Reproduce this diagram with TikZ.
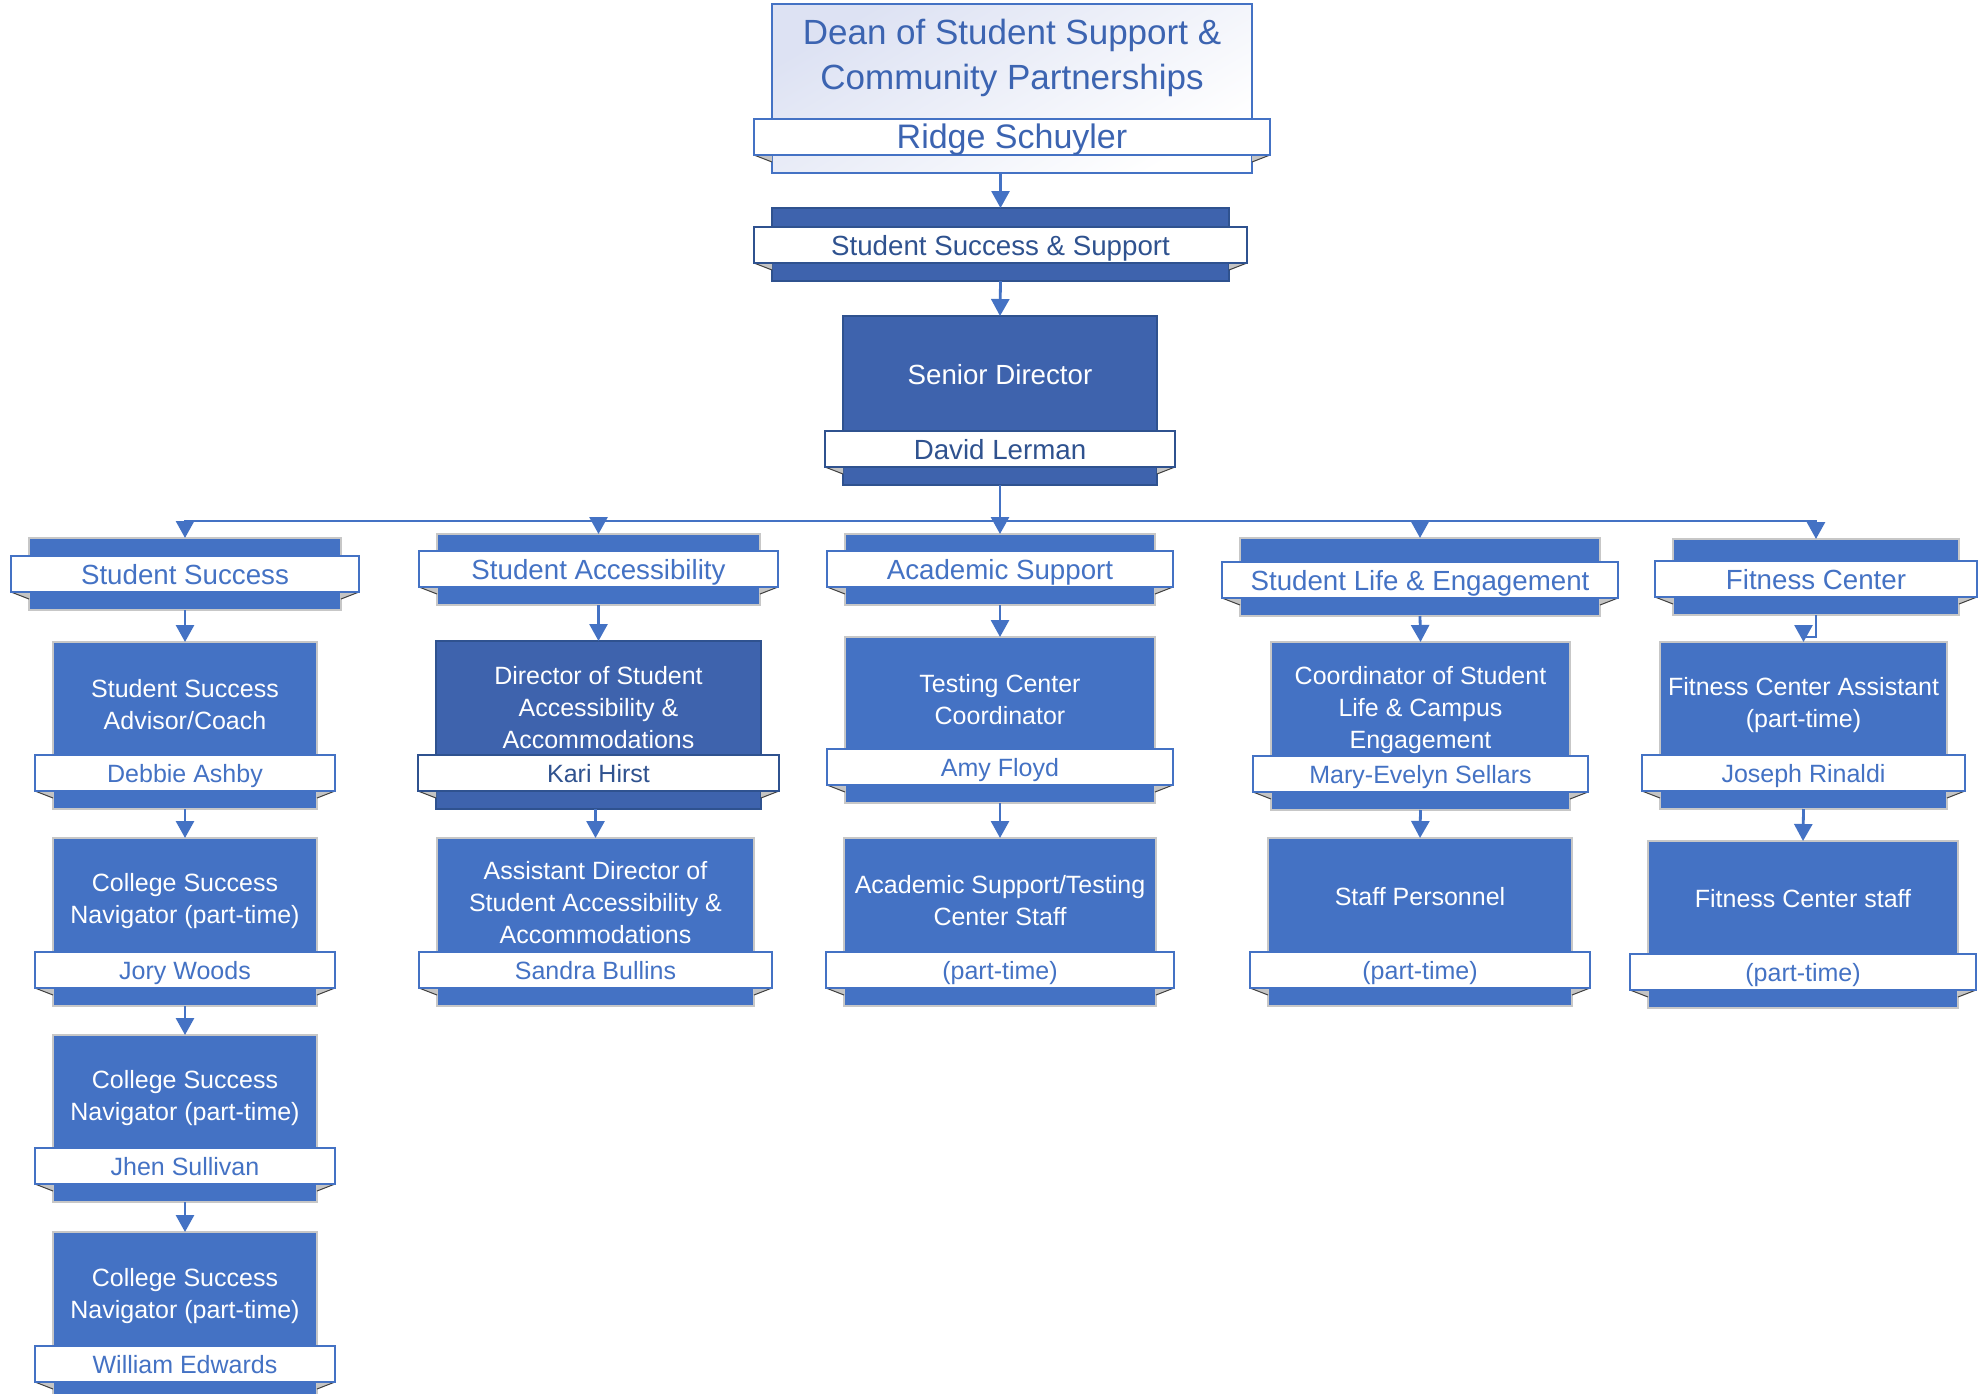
\documentclass[tikz,border=0pt]{standalone}
\usepackage{fontspec}
\setmainfont{Liberation Sans}
\usetikzlibrary{arrows.meta}
\definecolor{lt}{HTML}{4472C4}
\definecolor{dk}{HTML}{3E63AD}
\definecolor{dkline}{HTML}{2F528F}
\definecolor{dktext}{HTML}{2F528F}
\definecolor{deantext}{HTML}{3C64B1}
\definecolor{deanfill}{HTML}{DDE2F3}
\definecolor{foldgray}{HTML}{C4C4C4}
\newcommand\fb{\fontsize{25}{32}\selectfont}
\newcommand\fd{\fontsize{27.7}{34}\selectfont}
\newcommand\fdean{\fontsize{35}{45}\selectfont}
\newcommand\fridge{\fontsize{34}{40}\selectfont}
\tikzset{
  ltbox/.style={fill=lt, draw=black!22, line width=1.2pt},
  dkbox/.style={fill=dk, draw=dkline, line width=1.5pt},
  deanbox/.style={top color=deanfill, bottom color=white, shading angle=30, draw=lt, line width=1.8pt},
  ltband/.style={fill=white, draw=lt, line width=1.3pt},
  dkband/.style={fill=white, draw=dkline, line width=1.8pt},
  deanband/.style={fill=white, draw=lt, line width=1.5pt},
  ltname/.style={text=lt},
  dkname/.style={text=dktext},
  deanname/.style={text=deantext},
  ltbody/.style={text=white},
  dkbody/.style={text=white},
  deanbody/.style={text=deantext},
  namefont/.style={font=\fb},
  namepos/.style={yshift=-9pt},
  bodyfont/.style={font=\fb},
  foldfill/.style={fill=foldgray},
  foldline/.style={draw=black!75, line width=1pt},
  conn/.style={draw=lt, line width=2.8pt, -{Triangle[width=18pt,length=17pt]}},
  bus/.style={draw=lt, line width=2.8pt},
}
% #1 name #2 prefix #3 x1 #4 y1 #5 x2 #6 y2 #7 body shift #8 body #9 band text
\newcommand\obox[9]{%
  \node[#2box, rectangle, inner sep=0pt, outer sep=0pt,
        minimum width=#5pt-#3pt, minimum height=#6pt-#4pt]
        (#1) at ({(#3+#5)/2},{(#4+#6)/2}) {};
  \fill[foldfill] ({#3-18},{#6-18}) -- (#3,{#6-18}) -- (#3,{#6-11}) -- cycle;
  \fill[foldfill] ({#5+18},{#6-18}) -- (#5,{#6-18}) -- (#5,{#6-11}) -- cycle;
  \draw[foldline] ({#3-18},{#6-18}) -- (#3,{#6-11});
  \draw[foldline] ({#5+18},{#6-18}) -- (#5,{#6-11});
  \node[#2band, rectangle, inner sep=0pt, outer sep=0pt,
        minimum width=#5pt-#3pt+36pt, minimum height=36pt]
        (#1n) at ({(#3+#5)/2},{#6-36}) {};
  \node[#2name, namefont, anchor=base, inner sep=0pt, namepos] (#1t) at (#1n.center) {#9};
  \node[#2body, bodyfont, align=center, inner sep=0pt] (#1b) at ({(#3+#5)/2},{(#4+#6-54)/2+#7}) {#8};
}
\begin{document}
\begin{tikzpicture}[x=1pt,y=-1pt]
\useasboundingbox[fill=white] (0,0) rectangle (1986,1394);

% top chain
{\tikzset{namefont/.style={font=\fridge}, namepos/.style={yshift=-12pt}, bodyfont/.style={font=\fdean}}
 \obox{dean}{dean}{772}{4}{1252}{173}{-4}{Dean of Student Support \&\\Community Partnerships}{Ridge Schuyler}}
{\tikzset{namefont/.style={font=\fd}, namepos/.style={yshift=-10pt}}
 \obox{sss}{dk}{772}{208}{1229}{281}{0}{}{Student Success \& Support}}
{\tikzset{namefont/.style={font=\fd}, namepos/.style={yshift=-10pt}, bodyfont/.style={font=\fd}}
 \obox{sr}{dk}{843}{316}{1157}{485}{1.5}{Senior Director}{David Lerman}}

% departments
{\tikzset{namefont/.style={font=\fd}, namepos/.style={yshift=-10pt}}
 \obox{ss}{lt}{29}{538}{341}{610}{0}{}{Student Success}
 \obox{sa}{lt}{437}{534}{760}{605}{0}{}{Student Accessibility}
 \obox{as}{lt}{845}{534}{1155}{605}{0}{}{Academic Support}
 \obox{sle}{lt}{1240}{538}{1600}{616}{0}{}{Student Life \& Engagement}
 \obox{fc}{lt}{1673}{539}{1959}{615}{0}{}{Fitness Center}}

% column 1
\obox{adv}{lt}{53}{642}{317}{809}{6.5}{Student Success\\Advisor/Coach}{Debbie Ashby}
\obox{nava}{lt}{53}{838}{317}{1006}{6}{College Success\\Navigator (part-time)}{Jory Woods}
\obox{navb}{lt}{53}{1035}{317}{1202}{7}{College Success\\Navigator (part-time)}{Jhen Sullivan}
\obox{navc}{lt}{53}{1232}{317}{1400}{7}{College Success\\Navigator (part-time)}{William Edwards}

% column 2
\obox{dir}{dk}{436}{641}{761}{809}{10}{Director of Student\\Accessibility \&\\Accommodations}{Kari Hirst}
\obox{adir}{lt}{437}{838}{754}{1006}{8}{Assistant Director of\\Student Accessibility \&\\Accommodations}{Sandra Bullins}

% column 3
\obox{tcc}{lt}{845}{637}{1155}{803}{7}{Testing Center\\Coordinator}{Amy Floyd}
\obox{ats}{lt}{844}{838}{1156}{1006}{6}{Academic Support/Testing\\Center Staff}{(part-time)}

% column 4
\obox{coord}{lt}{1271}{642}{1570}{810}{11}{Coordinator of Student\\Life \& Campus\\Engagement}{Mary-Evelyn Sellars}
\obox{sp}{lt}{1268}{838}{1572}{1006}{2}{Staff Personnel}{(part-time)}

% column 5
\obox{fca}{lt}{1660}{642}{1947}{809}{7}{Fitness Center Assistant\\(part-time)}{Joseph Rinaldi}
\obox{fcs}{lt}{1648}{841}{1958}{1008}{1.5}{Fitness Center staff}{(part-time)}

% connectors
\draw[conn] (sss.north |- dean.south) -- (sss.north);
\draw[conn] (sss.south) -- (sr.north);
\coordinate (busy) at (0,521);
\coordinate (bus) at (sr.south |- busy);
\draw[bus] (ss.north |- busy) -- (fc.north |- busy);
\draw[conn] (sr.south) -- (as.north);
\draw[conn] (bus) -| (ss.north);
\draw[conn] (bus) -| (sa.north);
\draw[conn] (bus) -| (sle.north);
\draw[conn] (bus) -| (fc.north);

\draw[conn] (ss.south) -- (adv.north);
\draw[conn] (adv.south) -- (nava.north);
\draw[conn] (nava.south) -- (navb.north);
\draw[conn] (navb.south) -- (navc.north);

\draw[conn] (sa.south) -- (dir.north);
\draw[conn] (adir.north |- dir.south) -- (adir.north);

\draw[conn] (as.south) -- (tcc.north);
\draw[conn] (tcc.south) -- (ats.north);

\draw[conn] (sle.south) -- (coord.north);
\draw[conn] (coord.south) -- (sp.north);

\draw[conn] (fc.south) -- ++(0,22) -| (fca.north);
\draw[conn] (fca.south) -- (fcs.north);
\end{tikzpicture}
\end{document}
